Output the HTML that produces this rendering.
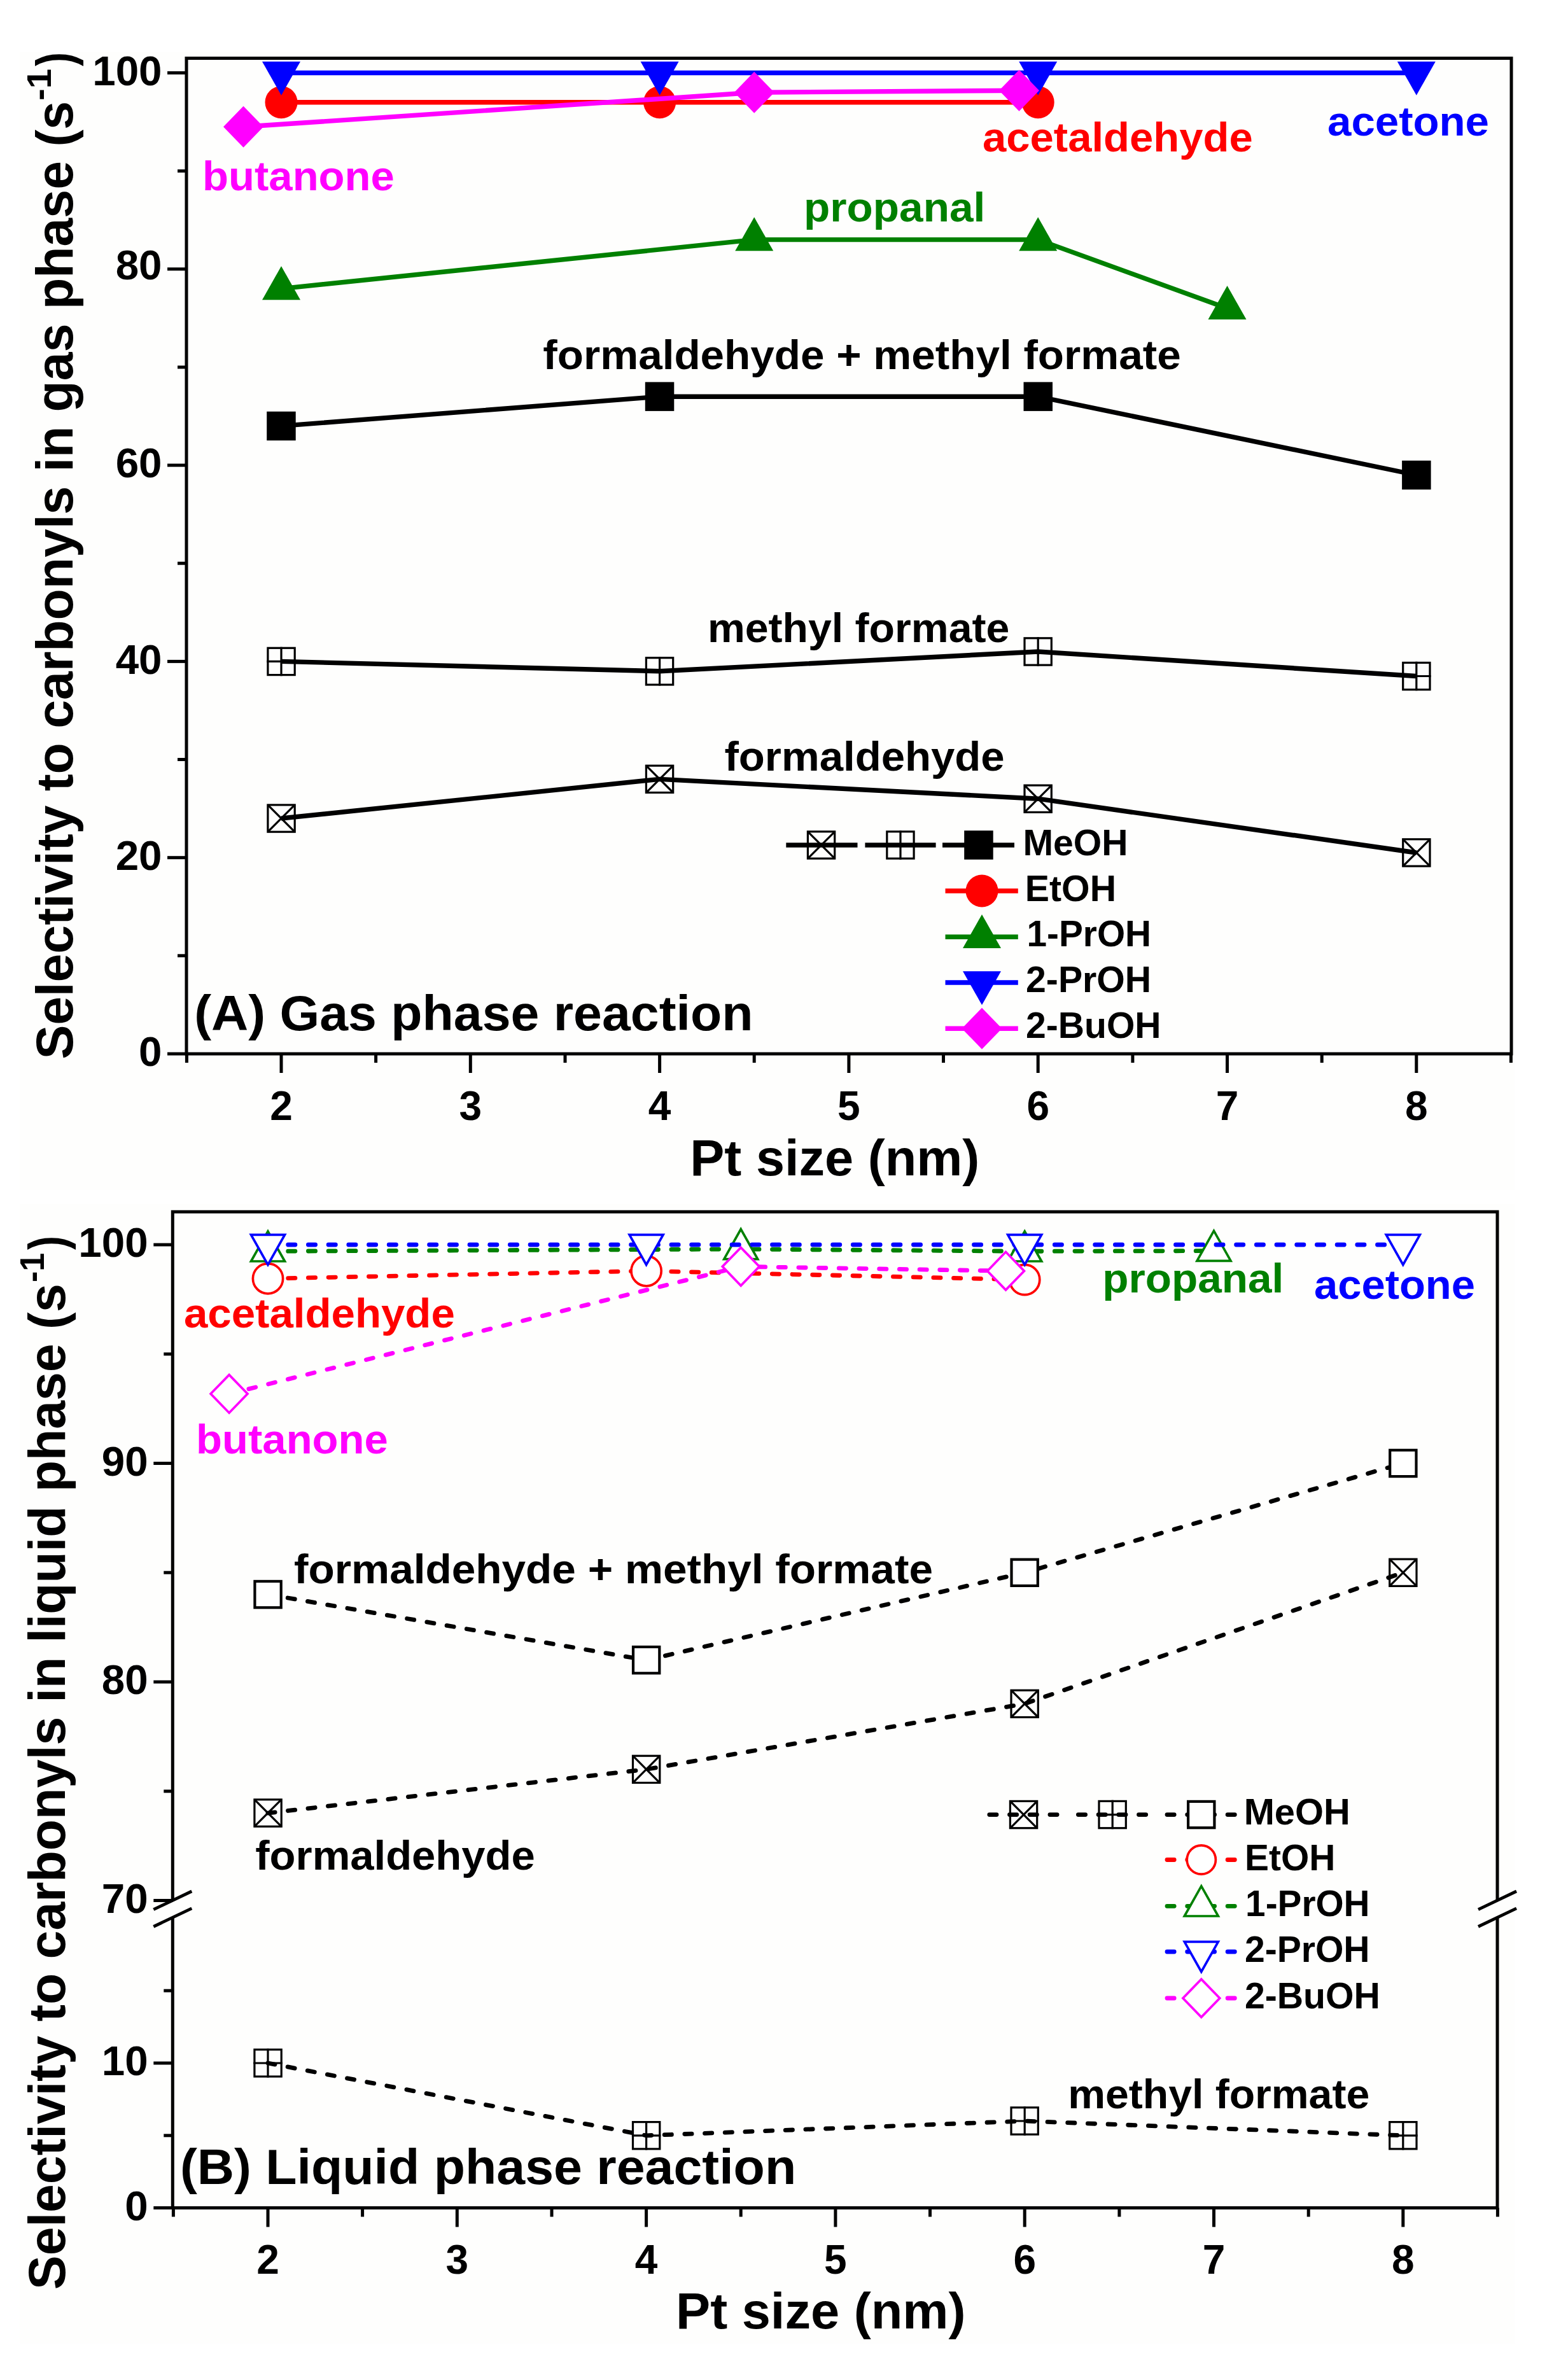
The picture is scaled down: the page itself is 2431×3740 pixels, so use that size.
<!DOCTYPE html>
<html lang="en"><head><meta charset="utf-8"><title>Selectivity to carbonyls vs Pt size</title>
<style>html,body{margin:0;padding:0;background:#fff}svg{display:block}text{font-family:"Liberation Sans",Arial,Helvetica,sans-serif;font-weight:bold}</style>
</head><body>
<svg width="2431" height="3740" viewBox="0 0 2431 3740">
<rect width="2431" height="3740" fill="#fff"/>
<rect x="31" y="82" width="2349" height="1788" fill="#fefefd"/>
<rect x="31" y="1892" width="2349" height="1791" fill="#fefefd"/>
<g id="plotA">
<polyline points="442,1286 1036.6,1224.4 1631.2,1255.2 2225.8,1340" fill="none" stroke="#000" stroke-width="7.4"/>
<rect x="420.9" y="1264.9" width="42.3" height="42.3" fill="none" stroke="#000" stroke-width="3.2"/>
<path d="M420.9 1264.9L463.1 1307.2M463.1 1264.9L420.9 1307.2" stroke="#000" stroke-width="3.2" fill="none"/>
<rect x="1015.4" y="1203.2" width="42.3" height="42.3" fill="none" stroke="#000" stroke-width="3.2"/>
<path d="M1015.4 1203.2L1057.8 1245.5M1057.8 1203.2L1015.4 1245.5" stroke="#000" stroke-width="3.2" fill="none"/>
<rect x="1610" y="1234.1" width="42.3" height="42.3" fill="none" stroke="#000" stroke-width="3.2"/>
<path d="M1610 1234.1L1652.4 1276.4M1652.4 1234.1L1610 1276.4" stroke="#000" stroke-width="3.2" fill="none"/>
<rect x="2204.7" y="1318.8" width="42.3" height="42.3" fill="none" stroke="#000" stroke-width="3.2"/>
<path d="M2204.7 1318.8L2247 1361.1M2247 1318.8L2204.7 1361.1" stroke="#000" stroke-width="3.2" fill="none"/>
<polyline points="442,1039.4 1036.6,1054.8 1631.2,1024 2225.8,1062.5" fill="none" stroke="#000" stroke-width="7.4"/>
<rect x="420.9" y="1018.3" width="42.3" height="42.3" fill="none" stroke="#000" stroke-width="3.2"/>
<path d="M419.2 1039.4H464.8M442 1016.7V1062.2" stroke="#000" stroke-width="3.2" fill="none"/>
<rect x="1015.4" y="1033.7" width="42.3" height="42.3" fill="none" stroke="#000" stroke-width="3.2"/>
<path d="M1013.8 1054.8H1059.3M1036.6 1032.1V1077.6" stroke="#000" stroke-width="3.2" fill="none"/>
<rect x="1610" y="1002.8" width="42.3" height="42.3" fill="none" stroke="#000" stroke-width="3.2"/>
<path d="M1608.5 1024H1654M1631.2 1001.2V1046.7" stroke="#000" stroke-width="3.2" fill="none"/>
<rect x="2204.7" y="1041.4" width="42.3" height="42.3" fill="none" stroke="#000" stroke-width="3.2"/>
<path d="M2203.1 1062.5H2248.6M2225.8 1039.8V1085.3" stroke="#000" stroke-width="3.2" fill="none"/>
<polyline points="442,669.4 1036.6,623.2 1631.2,623.2 2225.8,746.5" fill="none" stroke="#000" stroke-width="7.4"/>
<rect x="419.2" y="646.7" width="45.5" height="45.5" fill="#000"/>
<rect x="1013.8" y="600.4" width="45.5" height="45.5" fill="#000"/>
<rect x="1608.5" y="600.4" width="45.5" height="45.5" fill="#000"/>
<rect x="2203.1" y="723.8" width="45.5" height="45.5" fill="#000"/>
<polyline points="442,160.7 1036.6,160.7 1631.2,160.7" fill="none" stroke="#ff0000" stroke-width="7.4"/>
<circle cx="442" cy="160.7" r="25.5" fill="#ff0000"/>
<circle cx="1036.6" cy="160.7" r="25.5" fill="#ff0000"/>
<circle cx="1631.2" cy="160.7" r="25.5" fill="#ff0000"/>
<polyline points="442,453.6 1185.2,376.6 1631.2,376.6 1928.5,484.5" fill="none" stroke="#008000" stroke-width="7.4"/>
<polygon points="412,471.3 472,471.3 442,418.3" fill="#008000"/>
<polygon points="1155.2,394.2 1215.2,394.2 1185.2,341.2" fill="#008000"/>
<polygon points="1601.2,394.2 1661.2,394.2 1631.2,341.2" fill="#008000"/>
<polygon points="1898.5,502.1 1958.5,502.1 1928.5,449.1" fill="#008000"/>
<polyline points="442,114.5 1036.6,114.5 1631.2,114.5 2225.8,114.5" fill="none" stroke="#0000ff" stroke-width="7.4"/>
<polygon points="412,96.8 472,96.8 442,149.8" fill="#0000ff"/>
<polygon points="1006.6,96.8 1066.6,96.8 1036.6,149.8" fill="#0000ff"/>
<polygon points="1601.2,96.8 1661.2,96.8 1631.2,149.8" fill="#0000ff"/>
<polygon points="2195.8,96.8 2255.8,96.8 2225.8,149.8" fill="#0000ff"/>
<polyline points="382.5,199.3 1185.2,145.3 1601.5,142.2" fill="none" stroke="#ff00ff" stroke-width="7.4"/>
<polygon points="351,199.3 382.5,166.8 414,199.3 382.5,231.8" fill="#ff00ff"/>
<polygon points="1153.8,145.3 1185.2,112.8 1216.8,145.3 1185.2,177.8" fill="#ff00ff"/>
<polygon points="1570,142.2 1601.5,109.7 1633,142.2 1601.5,174.7" fill="#ff00ff"/>
<rect x="293" y="91.5" width="2082" height="1564.5" fill="none" stroke="#000" stroke-width="5"/>
<line x1="293.4" y1="1656" x2="293.4" y2="1670" stroke="#000" stroke-width="5"/>
<line x1="442" y1="1656" x2="442" y2="1686" stroke="#000" stroke-width="5"/>
<line x1="590.6" y1="1656" x2="590.6" y2="1670" stroke="#000" stroke-width="5"/>
<line x1="739.3" y1="1656" x2="739.3" y2="1686" stroke="#000" stroke-width="5"/>
<line x1="888" y1="1656" x2="888" y2="1670" stroke="#000" stroke-width="5"/>
<line x1="1036.6" y1="1656" x2="1036.6" y2="1686" stroke="#000" stroke-width="5"/>
<line x1="1185.2" y1="1656" x2="1185.2" y2="1670" stroke="#000" stroke-width="5"/>
<line x1="1333.9" y1="1656" x2="1333.9" y2="1686" stroke="#000" stroke-width="5"/>
<line x1="1482.5" y1="1656" x2="1482.5" y2="1670" stroke="#000" stroke-width="5"/>
<line x1="1631.2" y1="1656" x2="1631.2" y2="1686" stroke="#000" stroke-width="5"/>
<line x1="1779.9" y1="1656" x2="1779.9" y2="1670" stroke="#000" stroke-width="5"/>
<line x1="1928.5" y1="1656" x2="1928.5" y2="1686" stroke="#000" stroke-width="5"/>
<line x1="2077.2" y1="1656" x2="2077.2" y2="1670" stroke="#000" stroke-width="5"/>
<line x1="2225.8" y1="1656" x2="2225.8" y2="1686" stroke="#000" stroke-width="5"/>
<line x1="2374.4" y1="1656" x2="2374.4" y2="1670" stroke="#000" stroke-width="5"/>
<line x1="263" y1="1656" x2="293" y2="1656" stroke="#000" stroke-width="5"/>
<line x1="279" y1="1501.8" x2="293" y2="1501.8" stroke="#000" stroke-width="5"/>
<line x1="263" y1="1347.7" x2="293" y2="1347.7" stroke="#000" stroke-width="5"/>
<line x1="279" y1="1193.5" x2="293" y2="1193.5" stroke="#000" stroke-width="5"/>
<line x1="263" y1="1039.4" x2="293" y2="1039.4" stroke="#000" stroke-width="5"/>
<line x1="279" y1="885.2" x2="293" y2="885.2" stroke="#000" stroke-width="5"/>
<line x1="263" y1="731.1" x2="293" y2="731.1" stroke="#000" stroke-width="5"/>
<line x1="279" y1="577" x2="293" y2="577" stroke="#000" stroke-width="5"/>
<line x1="263" y1="422.8" x2="293" y2="422.8" stroke="#000" stroke-width="5"/>
<line x1="279" y1="268.7" x2="293" y2="268.7" stroke="#000" stroke-width="5"/>
<line x1="263" y1="114.5" x2="293" y2="114.5" stroke="#000" stroke-width="5"/>
<text x="442" y="1759.5" font-size="64" text-anchor="middle">2</text>
<text x="739.3" y="1759.5" font-size="64" text-anchor="middle">3</text>
<text x="1036.6" y="1759.5" font-size="64" text-anchor="middle">4</text>
<text x="1333.9" y="1759.5" font-size="64" text-anchor="middle">5</text>
<text x="1631.2" y="1759.5" font-size="64" text-anchor="middle">6</text>
<text x="1928.5" y="1759.5" font-size="64" text-anchor="middle">7</text>
<text x="2225.8" y="1759.5" font-size="64" text-anchor="middle">8</text>
<text x="254.5" y="1675.3" font-size="65.5" text-anchor="end">0</text>
<text x="254.5" y="1367" font-size="65.5" text-anchor="end">20</text>
<text x="254.5" y="1058.7" font-size="65.5" text-anchor="end">40</text>
<text x="254.5" y="750.4" font-size="65.5" text-anchor="end">60</text>
<text x="254.5" y="439.3" font-size="65.5" text-anchor="end">80</text>
<text x="254.5" y="133.8" font-size="65.5" text-anchor="end">100</text>
<text x="1084.3" y="1846.5" font-size="80" textLength="455" lengthAdjust="spacingAndGlyphs">Pt size (nm)</text>
<text transform="translate(114,1662.2) rotate(-90)" font-size="82"><tspan x="-2.4" textLength="1505.7" lengthAdjust="spacingAndGlyphs">Selectivity to carbonyls in gas phase (s</tspan><tspan x="1504.2" dy="-34" font-size="53" textLength="50" lengthAdjust="spacingAndGlyphs">-1</tspan><tspan x="1558.1" dy="34" textLength="22.1" lengthAdjust="spacingAndGlyphs">)</tspan></text>
<text x="305.2" y="1619.3" font-size="78" textLength="878.2" lengthAdjust="spacingAndGlyphs">(A) Gas phase reaction</text>
<text x="318.1" y="299" font-size="65.5" fill="#ff00ff" textLength="301.7" lengthAdjust="spacingAndGlyphs">butanone</text>
<text x="1544" y="238" font-size="65.5" fill="#ff0000" textLength="424.8" lengthAdjust="spacingAndGlyphs">acetaldehyde</text>
<text x="2086" y="212.8" font-size="65.5" fill="#0000ff" textLength="254" lengthAdjust="spacingAndGlyphs">acetone</text>
<text x="1263.1" y="347.5" font-size="65.5" fill="#008000" textLength="285.1" lengthAdjust="spacingAndGlyphs">propanal</text>
<text x="853.3" y="580" font-size="65.5" textLength="1002.4" lengthAdjust="spacingAndGlyphs">formaldehyde + methyl formate</text>
<text x="1111.9" y="1009" font-size="65.5" textLength="474.4" lengthAdjust="spacingAndGlyphs">methyl formate</text>
<text x="1138.5" y="1210.6" font-size="65.5" textLength="440.2" lengthAdjust="spacingAndGlyphs">formaldehyde</text>
<line x1="1235.3" y1="1328" x2="1347.5" y2="1328" stroke="#000" stroke-width="7.4"/>
<rect x="1269.4" y="1306.8" width="42.3" height="42.3" fill="none" stroke="#000" stroke-width="3.2"/>
<path d="M1269.4 1306.8L1311.8 1349.2M1311.8 1306.8L1269.4 1349.2" stroke="#000" stroke-width="3.2" fill="none"/>
<line x1="1359.4" y1="1328" x2="1470.6" y2="1328" stroke="#000" stroke-width="7.4"/>
<rect x="1393.8" y="1306.8" width="42.3" height="42.3" fill="none" stroke="#000" stroke-width="3.2"/>
<path d="M1392.2 1328H1437.8M1415 1305.2V1350.8" stroke="#000" stroke-width="3.2" fill="none"/>
<line x1="1481" y1="1328" x2="1594" y2="1328" stroke="#000" stroke-width="7.4"/>
<rect x="1515.2" y="1305.2" width="45.5" height="45.5" fill="#000"/>
<line x1="1485.5" y1="1400" x2="1599.8" y2="1400" stroke="#ff0000" stroke-width="7.4"/>
<line x1="1485.5" y1="1472.3" x2="1599.8" y2="1472.3" stroke="#008000" stroke-width="7.4"/>
<line x1="1485.5" y1="1544" x2="1599.8" y2="1544" stroke="#0000ff" stroke-width="7.4"/>
<line x1="1485.5" y1="1616.2" x2="1599.8" y2="1616.2" stroke="#ff00ff" stroke-width="7.4"/>
<circle cx="1543" cy="1400" r="25.5" fill="#ff0000"/>
<polygon points="1513,1490 1573,1490 1543,1437" fill="#008000"/>
<polygon points="1513,1526.3 1573,1526.3 1543,1579.3" fill="#0000ff"/>
<polygon points="1511.5,1616.2 1543,1583.7 1574.5,1616.2 1543,1648.7" fill="#ff00ff"/>
<text x="1607.4" y="1343.9" font-size="56.5" textLength="165.1" lengthAdjust="spacingAndGlyphs">MeOH</text>
<text x="1610.8" y="1415.5" font-size="56.5" textLength="143.2" lengthAdjust="spacingAndGlyphs">EtOH</text>
<text x="1613.4" y="1486.5" font-size="56.5" textLength="195.7" lengthAdjust="spacingAndGlyphs">1-PrOH</text>
<text x="1612" y="1559.3" font-size="56.5" textLength="197.2" lengthAdjust="spacingAndGlyphs">2-PrOH</text>
<text x="1612" y="1630.8" font-size="56.5" textLength="212.6" lengthAdjust="spacingAndGlyphs">2-BuOH</text>
</g>
<g id="plotB">
<polyline points="421,2849.1 1015.6,2780.4 1610.2,2677.3 2204.8,2471.2" fill="none" stroke="#000" stroke-width="6.8" stroke-dasharray="11.2 20.5" stroke-linecap="round"/>
<rect x="399.9" y="2827.9" width="42.3" height="42.3" fill="none" stroke="#000" stroke-width="3.2"/>
<path d="M399.9 2827.9L442.1 2870.2M442.1 2827.9L399.9 2870.2" stroke="#000" stroke-width="3.2" fill="none"/>
<rect x="994.5" y="2759.2" width="42.3" height="42.3" fill="none" stroke="#000" stroke-width="3.2"/>
<path d="M994.5 2759.2L1036.8 2801.6M1036.8 2759.2L994.5 2801.6" stroke="#000" stroke-width="3.2" fill="none"/>
<rect x="1589" y="2656.2" width="42.3" height="42.3" fill="none" stroke="#000" stroke-width="3.2"/>
<path d="M1589 2656.2L1631.4 2698.5M1631.4 2656.2L1589 2698.5" stroke="#000" stroke-width="3.2" fill="none"/>
<rect x="2183.7" y="2450.1" width="42.3" height="42.3" fill="none" stroke="#000" stroke-width="3.2"/>
<path d="M2183.7 2450.1L2226 2492.4M2226 2450.1L2183.7 2492.4" stroke="#000" stroke-width="3.2" fill="none"/>
<polyline points="421,3242 1015.6,3355.8 1610.2,3333 2204.8,3355.8" fill="none" stroke="#000" stroke-width="6.8" stroke-dasharray="11.2 20.5" stroke-linecap="round"/>
<rect x="399.9" y="3220.8" width="42.3" height="42.3" fill="none" stroke="#000" stroke-width="3.2"/>
<path d="M398.2 3242H443.8M421 3219.2V3264.8" stroke="#000" stroke-width="3.2" fill="none"/>
<rect x="994.5" y="3334.6" width="42.3" height="42.3" fill="none" stroke="#000" stroke-width="3.2"/>
<path d="M992.9 3355.8H1038.3M1015.6 3333V3378.5" stroke="#000" stroke-width="3.2" fill="none"/>
<rect x="1589" y="3311.8" width="42.3" height="42.3" fill="none" stroke="#000" stroke-width="3.2"/>
<path d="M1587.5 3333H1633M1610.2 3310.2V3355.8" stroke="#000" stroke-width="3.2" fill="none"/>
<rect x="2183.7" y="3334.6" width="42.3" height="42.3" fill="none" stroke="#000" stroke-width="3.2"/>
<path d="M2182.1 3355.8H2227.6M2204.8 3333V3378.5" stroke="#000" stroke-width="3.2" fill="none"/>
<polyline points="421,2505.6 1015.6,2608.7 1610.2,2471.2 2204.8,2299.5" fill="none" stroke="#000" stroke-width="6.8" stroke-dasharray="11.2 20.5" stroke-linecap="round"/>
<rect x="400.4" y="2484.9" width="41.3" height="41.3" fill="#fff" stroke="#000" stroke-width="4.2"/>
<rect x="995" y="2588" width="41.3" height="41.3" fill="#fff" stroke="#000" stroke-width="4.2"/>
<rect x="1589.5" y="2450.6" width="41.3" height="41.3" fill="#fff" stroke="#000" stroke-width="4.2"/>
<rect x="2184.2" y="2278.8" width="41.3" height="41.3" fill="#fff" stroke="#000" stroke-width="4.2"/>
<polyline points="421,2009.2 1015.6,1997.2 1610.2,2011" fill="none" stroke="#ff0000" stroke-width="6.8" stroke-dasharray="11.2 20.5" stroke-linecap="round"/>
<circle cx="421" cy="2009.2" r="23.6" fill="#fff" stroke="#ff0000" stroke-width="3.7"/>
<circle cx="1015.6" cy="1997.2" r="23.6" fill="#fff" stroke="#ff0000" stroke-width="3.7"/>
<circle cx="1610.2" cy="2011" r="23.6" fill="#fff" stroke="#ff0000" stroke-width="3.7"/>
<polyline points="421,1966.3 1164.2,1962.9 1610.2,1966.3 1907.5,1965.6" fill="none" stroke="#008000" stroke-width="6.8" stroke-dasharray="11.2 20.5" stroke-linecap="round"/>
<polygon points="394.5,1982 447.5,1982 421,1934.9" fill="#fff" stroke="#008000" stroke-width="3.7"/>
<polygon points="1137.8,1978.6 1190.7,1978.6 1164.2,1931.5" fill="#fff" stroke="#008000" stroke-width="3.7"/>
<polygon points="1583.7,1982 1636.7,1982 1610.2,1934.9" fill="#fff" stroke="#008000" stroke-width="3.7"/>
<polygon points="1881,1981.3 1934,1981.3 1907.5,1934.2" fill="#fff" stroke="#008000" stroke-width="3.7"/>
<polyline points="421,1956 1015.6,1956 1610.2,1956 2204.8,1956" fill="none" stroke="#0000ff" stroke-width="6.8" stroke-dasharray="11.2 20.5" stroke-linecap="round"/>
<polygon points="394.5,1940.3 447.5,1940.3 421,1987.4" fill="#fff" stroke="#0000ff" stroke-width="3.7"/>
<polygon points="989.1,1940.3 1042.1,1940.3 1015.6,1987.4" fill="#fff" stroke="#0000ff" stroke-width="3.7"/>
<polygon points="1583.7,1940.3 1636.7,1940.3 1610.2,1987.4" fill="#fff" stroke="#0000ff" stroke-width="3.7"/>
<polygon points="2178.3,1940.3 2231.3,1940.3 2204.8,1987.4" fill="#fff" stroke="#0000ff" stroke-width="3.7"/>
<polyline points="360.1,2190.3 1164.2,1990.3 1580.5,1997.2" fill="none" stroke="#ff00ff" stroke-width="6.8" stroke-dasharray="11.2 20.5" stroke-linecap="round"/>
<polygon points="331.1,2190.3 360.1,2160.4 389,2190.3 360.1,2220.2" fill="#fff" stroke="#ff00ff" stroke-width="3.7"/>
<polygon points="1135.3,1990.3 1164.2,1960.4 1193.2,1990.3 1164.2,2020.3" fill="#fff" stroke="#ff00ff" stroke-width="3.7"/>
<polygon points="1551.6,1997.2 1580.5,1967.3 1609.4,1997.2 1580.5,2027.1" fill="#fff" stroke="#ff00ff" stroke-width="3.7"/>
<path d="M271.3 2986.3V1904.2H2353V2986.3M271.3 3013.2V3469.5H2353V3013.2" fill="none" stroke="#000" stroke-width="5"/>
<line x1="241.3" y1="3000.6" x2="301.3" y2="2972" stroke="#000" stroke-width="4.8"/>
<line x1="241.3" y1="3027.5" x2="301.3" y2="2998.9" stroke="#000" stroke-width="4.8"/>
<line x1="2323" y1="3000.6" x2="2383" y2="2972" stroke="#000" stroke-width="4.8"/>
<line x1="2323" y1="3027.5" x2="2383" y2="2998.9" stroke="#000" stroke-width="4.8"/>
<line x1="272.4" y1="3469.5" x2="272.4" y2="3483.5" stroke="#000" stroke-width="5"/>
<line x1="421" y1="3469.5" x2="421" y2="3499.5" stroke="#000" stroke-width="5"/>
<line x1="569.6" y1="3469.5" x2="569.6" y2="3483.5" stroke="#000" stroke-width="5"/>
<line x1="718.3" y1="3469.5" x2="718.3" y2="3499.5" stroke="#000" stroke-width="5"/>
<line x1="867" y1="3469.5" x2="867" y2="3483.5" stroke="#000" stroke-width="5"/>
<line x1="1015.6" y1="3469.5" x2="1015.6" y2="3499.5" stroke="#000" stroke-width="5"/>
<line x1="1164.2" y1="3469.5" x2="1164.2" y2="3483.5" stroke="#000" stroke-width="5"/>
<line x1="1312.9" y1="3469.5" x2="1312.9" y2="3499.5" stroke="#000" stroke-width="5"/>
<line x1="1461.5" y1="3469.5" x2="1461.5" y2="3483.5" stroke="#000" stroke-width="5"/>
<line x1="1610.2" y1="3469.5" x2="1610.2" y2="3499.5" stroke="#000" stroke-width="5"/>
<line x1="1758.9" y1="3469.5" x2="1758.9" y2="3483.5" stroke="#000" stroke-width="5"/>
<line x1="1907.5" y1="3469.5" x2="1907.5" y2="3499.5" stroke="#000" stroke-width="5"/>
<line x1="2056.2" y1="3469.5" x2="2056.2" y2="3483.5" stroke="#000" stroke-width="5"/>
<line x1="2204.8" y1="3469.5" x2="2204.8" y2="3499.5" stroke="#000" stroke-width="5"/>
<line x1="2353.4" y1="3469.5" x2="2353.4" y2="3483.5" stroke="#000" stroke-width="5"/>
<line x1="241.3" y1="1956" x2="271.3" y2="1956" stroke="#000" stroke-width="5"/>
<line x1="257.3" y1="2127.8" x2="271.3" y2="2127.8" stroke="#000" stroke-width="5"/>
<line x1="241.3" y1="2299.5" x2="271.3" y2="2299.5" stroke="#000" stroke-width="5"/>
<line x1="257.3" y1="2471.2" x2="271.3" y2="2471.2" stroke="#000" stroke-width="5"/>
<line x1="241.3" y1="2643" x2="271.3" y2="2643" stroke="#000" stroke-width="5"/>
<line x1="257.3" y1="2814.8" x2="271.3" y2="2814.8" stroke="#000" stroke-width="5"/>
<line x1="241.3" y1="2986.5" x2="271.3" y2="2986.5" stroke="#000" stroke-width="5"/>
<line x1="257.3" y1="3128.2" x2="271.3" y2="3128.2" stroke="#000" stroke-width="5"/>
<line x1="241.3" y1="3242" x2="271.3" y2="3242" stroke="#000" stroke-width="5"/>
<line x1="257.3" y1="3355.8" x2="271.3" y2="3355.8" stroke="#000" stroke-width="5"/>
<line x1="241.3" y1="3469.5" x2="271.3" y2="3469.5" stroke="#000" stroke-width="5"/>
<text x="421" y="3572.5" font-size="64" text-anchor="middle">2</text>
<text x="718.3" y="3572.5" font-size="64" text-anchor="middle">3</text>
<text x="1015.6" y="3572.5" font-size="64" text-anchor="middle">4</text>
<text x="1312.9" y="3572.5" font-size="64" text-anchor="middle">5</text>
<text x="1610.2" y="3572.5" font-size="64" text-anchor="middle">6</text>
<text x="1907.5" y="3572.5" font-size="64" text-anchor="middle">7</text>
<text x="2204.8" y="3572.5" font-size="64" text-anchor="middle">8</text>
<text x="232.6" y="1975.3" font-size="65.5" text-anchor="end">100</text>
<text x="232.6" y="2318.8" font-size="65.5" text-anchor="end">90</text>
<text x="232.6" y="2662.3" font-size="65.5" text-anchor="end">80</text>
<text x="232.6" y="3005.8" font-size="65.5" text-anchor="end">70</text>
<text x="232.6" y="3261.3" font-size="65.5" text-anchor="end">10</text>
<text x="232.6" y="3488.8" font-size="65.5" text-anchor="end">0</text>
<text x="1062" y="3659" font-size="80" textLength="455.5" lengthAdjust="spacingAndGlyphs">Pt size (nm)</text>
<text transform="translate(102,3595.5) rotate(-90)" font-size="82"><tspan x="-2.4" textLength="1580.6" lengthAdjust="spacingAndGlyphs">Selectivity to carbonyls in liquid phase (s</tspan><tspan x="1580.4" dy="-33" font-size="53" textLength="46.5" lengthAdjust="spacingAndGlyphs">-1</tspan><tspan x="1631.4" dy="33" textLength="22.1" lengthAdjust="spacingAndGlyphs">)</tspan></text>
<text x="282.9" y="3432.1" font-size="78" textLength="968.3" lengthAdjust="spacingAndGlyphs">(B) Liquid phase reaction</text>
<text x="289" y="2086" font-size="65.5" fill="#ff0000" textLength="425.8" lengthAdjust="spacingAndGlyphs">acetaldehyde</text>
<text x="308.1" y="2284" font-size="65.5" fill="#ff00ff" textLength="301.7" lengthAdjust="spacingAndGlyphs">butanone</text>
<text x="1732.2" y="2031.2" font-size="65.5" fill="#008000" textLength="285.1" lengthAdjust="spacingAndGlyphs">propanal</text>
<text x="2064.9" y="2041.2" font-size="65.5" fill="#0000ff" textLength="253.1" lengthAdjust="spacingAndGlyphs">acetone</text>
<text x="462.1" y="2488.3" font-size="65.5" textLength="1003.9" lengthAdjust="spacingAndGlyphs">formaldehyde + methyl formate</text>
<text x="401.3" y="2937.5" font-size="65.5" textLength="439.5" lengthAdjust="spacingAndGlyphs">formaldehyde</text>
<text x="1678.2" y="3312.5" font-size="65.5" textLength="474" lengthAdjust="spacingAndGlyphs">methyl formate</text>
<polyline points="1554.8,2851.6 1662.4,2851.6" fill="none" stroke="#000" stroke-width="6.8" stroke-dasharray="11.2 20.5" stroke-linecap="round"/>
<rect x="1587.4" y="2830.4" width="42.3" height="42.3" fill="none" stroke="#000" stroke-width="3.2"/>
<path d="M1587.4 2830.4L1629.8 2872.8M1629.8 2830.4L1587.4 2872.8" stroke="#000" stroke-width="3.2" fill="none"/>
<polyline points="1694.4,2851.6 1802,2851.6" fill="none" stroke="#000" stroke-width="6.8" stroke-dasharray="11.2 20.5" stroke-linecap="round"/>
<rect x="1727" y="2830.4" width="42.3" height="42.3" fill="none" stroke="#000" stroke-width="3.2"/>
<path d="M1725.4 2851.6H1770.9M1748.2 2828.8V2874.3" stroke="#000" stroke-width="3.2" fill="none"/>
<polyline points="1834,2851.6 1941.6,2851.6" fill="none" stroke="#000" stroke-width="6.8" stroke-dasharray="11.2 20.5" stroke-linecap="round"/>
<rect x="1867.1" y="2830.9" width="41.3" height="41.3" fill="#fff" stroke="#000" stroke-width="4.2"/>
<polyline points="1834,2922.5 1941.6,2922.5" fill="none" stroke="#ff0000" stroke-width="6.8" stroke-dasharray="11.2 20.5" stroke-linecap="round"/>
<polyline points="1834,2995.3 1941.6,2995.3" fill="none" stroke="#008000" stroke-width="6.8" stroke-dasharray="11.2 20.5" stroke-linecap="round"/>
<polyline points="1834,3067 1941.6,3067" fill="none" stroke="#0000ff" stroke-width="6.8" stroke-dasharray="11.2 20.5" stroke-linecap="round"/>
<polyline points="1834,3140 1941.6,3140" fill="none" stroke="#ff00ff" stroke-width="6.8" stroke-dasharray="11.2 20.5" stroke-linecap="round"/>
<circle cx="1887.8" cy="2922.5" r="22.6" fill="#fff" stroke="#ff0000" stroke-width="3.7"/>
<polygon points="1861.3,3011 1914.3,3011 1887.8,2963.9" fill="#fff" stroke="#008000" stroke-width="3.7"/>
<polygon points="1861.3,3051.3 1914.3,3051.3 1887.8,3098.4" fill="#fff" stroke="#0000ff" stroke-width="3.7"/>
<polygon points="1858.9,3140 1887.8,3110.1 1916.7,3140 1887.8,3169.9" fill="#fff" stroke="#ff00ff" stroke-width="3.7"/>
<text x="1954.7" y="2867.3" font-size="56.5" textLength="167" lengthAdjust="spacingAndGlyphs">MeOH</text>
<text x="1956" y="2939" font-size="56.5" textLength="142.4" lengthAdjust="spacingAndGlyphs">EtOH</text>
<text x="1957.1" y="3010.8" font-size="56.5" textLength="195.5" lengthAdjust="spacingAndGlyphs">1-PrOH</text>
<text x="1955.9" y="3083.3" font-size="56.5" textLength="196.7" lengthAdjust="spacingAndGlyphs">2-PrOH</text>
<text x="1955.9" y="3155.5" font-size="56.5" textLength="213" lengthAdjust="spacingAndGlyphs">2-BuOH</text>
</g>
</svg></body></html>
